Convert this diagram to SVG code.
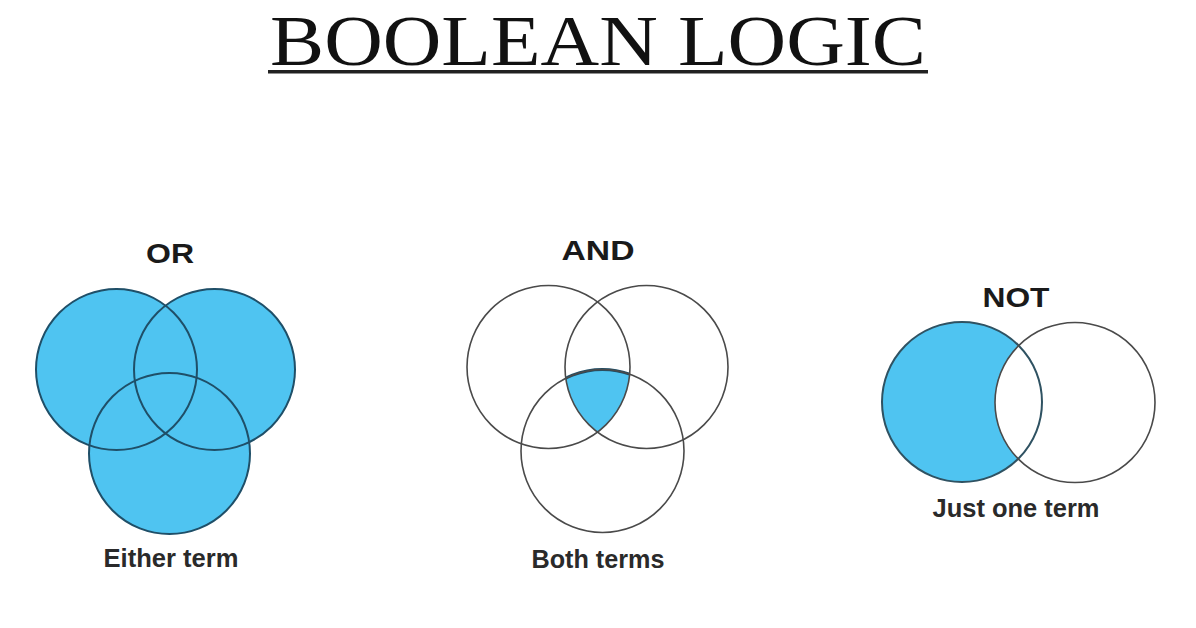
<svg xmlns="http://www.w3.org/2000/svg" width="1196" height="628" viewBox="0 0 1196 628">
  <style>
    .lbl { font-family: "Liberation Sans", Arial, sans-serif; font-weight: bold; fill: #1a1a1a; text-anchor: middle; }
    .head { font-size: 28px; }
    .sub { font-size: 25px; fill: #2a2a2a; }
    .blue { fill: #4fc4f1; }
    .ring { fill: none; stroke: #4a4a4a; stroke-width: 1.6; }
    .dring { fill: none; stroke: #1f4f68; stroke-width: 2; }
  </style>
  <defs>
    <clipPath id="andL"><circle cx="548.5" cy="367" r="81.5"/></clipPath>
    <clipPath id="andR"><circle cx="646.5" cy="367" r="81.5"/></clipPath>
  </defs>
  <rect width="1196" height="628" fill="#ffffff"/>

  <g id="title">
    <text x="598" y="64.5" font-family="'Liberation Serif', 'Times New Roman', serif" font-size="71" fill="#111" text-anchor="middle" textLength="656" lengthAdjust="spacingAndGlyphs">BOOLEAN LOGIC</text>
    <rect x="268" y="70" width="660" height="3.5" fill="#222"/>
  </g>

  <g id="or">
    <text class="lbl head" x="170" y="263" textLength="48" lengthAdjust="spacingAndGlyphs">OR</text>
    <circle class="blue" cx="116.5" cy="369.5" r="80.5"/>
    <circle class="blue" cx="214.5" cy="369.5" r="80.5"/>
    <circle class="blue" cx="169.5" cy="453.5" r="80.5"/>
    <circle class="dring" cx="116.5" cy="369.5" r="80.5"/>
    <circle class="dring" cx="214.5" cy="369.5" r="80.5"/>
    <circle class="dring" cx="169.5" cy="453.5" r="80.5"/>
    <text class="lbl sub" x="171" y="567" textLength="135" lengthAdjust="spacingAndGlyphs">Either term</text>
  </g>

  <g id="and">
    <text class="lbl head" x="598" y="260" textLength="73" lengthAdjust="spacingAndGlyphs">AND</text>
    <g clip-path="url(#andL)">
      <g clip-path="url(#andR)">
        <circle cx="602.5" cy="451" r="81.5" fill="#4fc4f1" stroke="#1f4f68" stroke-width="3"/>
      </g>
    </g>
    <circle class="ring" cx="548.5" cy="367" r="81.5"/>
    <circle class="ring" cx="646.5" cy="367" r="81.5"/>
    <circle class="ring" cx="602.5" cy="451" r="81.5"/>
    <text class="lbl sub" x="598" y="568" textLength="133" lengthAdjust="spacingAndGlyphs">Both terms</text>
  </g>

  <g id="not">
    <text class="lbl head" x="1016" y="307" textLength="67" lengthAdjust="spacingAndGlyphs">NOT</text>
    <circle class="blue" cx="962" cy="402" r="80"/>
    <circle cx="1075" cy="402.5" r="80" fill="#ffffff"/>
    <circle cx="962" cy="402" r="80" fill="none" stroke="#2f5262" stroke-width="2"/>
    <circle class="ring" cx="1075" cy="402.5" r="80"/>
    <text class="lbl sub" x="1016" y="517" textLength="167" lengthAdjust="spacingAndGlyphs">Just one term</text>
  </g>
</svg>
